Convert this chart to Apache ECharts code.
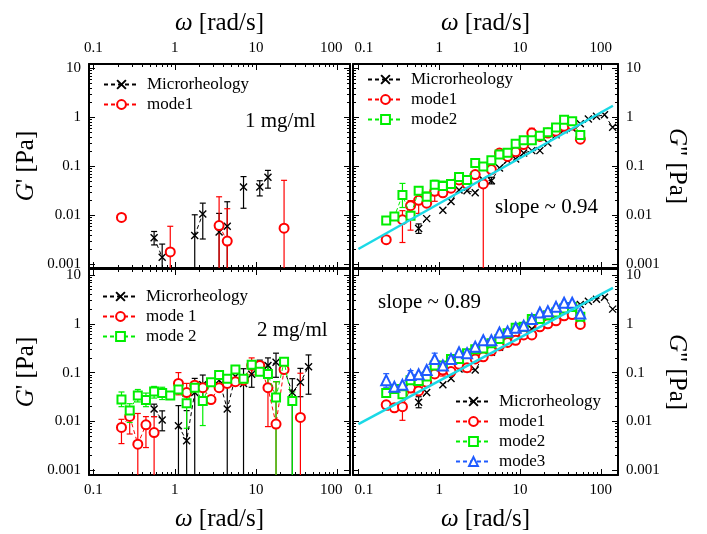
<!DOCTYPE html>
<html>
<head>
<meta charset="utf-8">
<script src="https://cdn.jsdelivr.net/npm/echarts@6/dist/echarts.min.js"></script>
<style>
html, body { margin: 0; padding: 0; background: #fff; }
#chart { width: 707px; height: 534px; }
</style>
</head>
<body>
<div id="chart"></div>
<script>
var FONT = '"Liberation Serif", "DejaVu Serif", serif';
var BLACK = '#000000', RED = '#ff0000', GREEN = '#00ee00', BLUE = '#1f5bff', CYAN = '#1ad9e6';

// frequency grid [rad/s] shared by all data sets
var omega = [0.221, 0.279, 0.351, 0.442, 0.557, 0.70, 0.88, 1.11, 1.40, 1.76, 2.21, 2.79, 3.51, 4.42,
  5.57, 7.01, 8.83, 11.1, 14.0, 17.6, 22.1, 27.9, 35.1, 44.2, 55.7, 70.1, 88.3, 111, 140];

// G' , 1 mg/ml (null = not plotted)
var tlMicro = [null, null, null, null, 0.0035, 0.0014, null, null, null, 0.0039, 0.0107, null, 0.0046, 0.0060,
  null, 0.038, null, 0.038, 0.060];
var tlMode1 = [0.0091, null, null, null, null, null, 0.0018, null, null, null, null, null, 0.0062, 0.0030,
  null, null, null, null, null, null, 0.0055];

// G'' , 1 mg/ml
var trMicro = [null, null, null, null, 0.0054, 0.0086, null, 0.0127, 0.0193, 0.033, 0.032, 0.029, 0.053, 0.051,
  0.093, 0.133, 0.141, 0.187, 0.21, 0.21, 0.30, 0.44, 0.56, 0.60, 0.74, 0.93, 1.05, 1.13, 0.63];
var trMode1 = [0.0032, null, 0.0082, 0.0158, 0.0203, 0.0178, 0.031, 0.029, 0.036, 0.053, 0.044, 0.068, 0.044, 0.086,
  0.187, 0.16, 0.20, 0.28, 0.48, 0.41, 0.48, 0.52, 0.66, 0.70, 0.36];
var trMode2 = [0.0079, 0.0095, 0.026, 0.0098, 0.032, 0.024, 0.042, 0.040, 0.044, 0.061, 0.053, 0.117, 0.100, 0.133,
  0.174, 0.19, 0.29, 0.34, 0.34, 0.42, 0.50, 0.62, 0.90, 0.83, 0.44];

// G' , 2 mg/ml
var blMicro = [null, null, null, null, 0.018, 0.0107, null, 0.0081, 0.0040, 0.039, 0.056, null, 0.070, 0.018,
  0.083, 0.060, 0.092, 0.143, 0.14, 0.162, 0.118, 0.039, 0.063, 0.132];
var blMode1 = [0.0075, 0.0126, 0.0034, 0.0085, 0.0059, null, null, 0.060, 0.039, 0.055, 0.049, 0.028, 0.049, 0.060,
  0.065, 0.070, 0.14, 0.14, 0.049, 0.0088, 0.115, null, 0.012];
var blMode2 = [0.028, 0.0166, 0.034, 0.0275, 0.041, 0.038, 0.034, 0.045, 0.0235, 0.049, 0.026, 0.063, 0.089, 0.075,
  0.116, 0.075, 0.145, 0.104, 0.093, 0.031, 0.167, 0.026];

// G'' , 2 mg/ml
var brMicro = [null, null, null, null, 0.0246, 0.039, null, 0.056, 0.076, 0.118, 0.12, 0.113, 0.21, 0.26,
  0.33, 0.42, 0.50, 0.64, 0.78, 0.94, 1.1, 1.5, 2.07, 2.2, 2.5, 2.9, 3.2, 3.5, 2.0];
var brMode1 = [0.0218, 0.019, 0.020, 0.048, 0.042, 0.063, 0.094, 0.113, 0.105, 0.148, 0.126, 0.19, 0.21, 0.28,
  0.355, 0.415, 0.46, 0.59, 0.59, 0.87, 1.0, 1.15, 1.46, 1.55, 0.97];
var brMode2 = [0.038, 0.046, 0.036, 0.070, 0.067, 0.083, 0.14, 0.14, 0.19, 0.19, 0.25, 0.30, 0.31, 0.40,
  0.49, 0.64, 0.83, 0.87, 1.25, 1.25, 1.5, 1.7, 2.07, 2.2, 1.4];
var brMode3 = [0.070, 0.051, 0.056, 0.089, 0.092, 0.113, 0.19, 0.14, 0.19, 0.26, 0.25, 0.34, 0.46, 0.46,
  0.66, 0.70, 0.83, 0.91, 1.25, 1.7, 1.82, 2.23, 2.7, 2.7, 1.63];

// error bars [omega, low, high]; low 0.0001 = bar runs off the bottom
var tlMicroErr = [[0.557, 0.0025, 0.0047], [0.70, 0.0001, 0.0026], [1.76, 0.0001, 0.0103], [2.21, 0.0033, 0.0178],
  [3.51, 0.0001, 0.011], [4.42, 0.0001, 0.019], [7.01, 0.014, 0.062], [11.1, 0.025, 0.051], [14.0, 0.036, 0.083]];
var tlMode1Err = [[0.88, 0.0001, 0.006], [3.51, 0.0001, 0.024], [4.42, 0.0001, 0.0137], [22.1, 0.0001, 0.052]];
var trMicroErr = [[0.557, 0.0043, 0.0067], [4.42, 0.044, 0.060]];
var trMode1Err = [[0.351, 0.0028, 0.0125], [0.442, 0.005, 0.02], [0.557, 0.011, 0.028], [0.88, 0.0194, 0.036],
  [3.51, 0.0001, 0.056], [14.0, 0.40, 0.60]];
var trMode2Err = [[0.351, 0.0145, 0.045], [0.70, 0.019, 0.03], [0.88, 0.034, 0.052], [1.11, 0.032, 0.05]];
var blMicroErr = [[0.557, 0.0125, 0.0225], [0.70, 0.0064, 0.0164], [1.11, 0.0001, 0.021], [1.40, 0.0001, 0.0166],
  [1.76, 0.0001, 0.076], [2.21, 0.030, 0.089], [4.42, 0.0001, 0.075], [7.01, 0.0001, 0.12], [8.83, 0.05, 0.14],
  [11.1, 0.11, 0.18], [14.0, 0.09, 0.20], [17.6, 0.08, 0.25], [27.9, 0.0001, 0.075], [35.1, 0.032, 0.122],
  [44.2, 0.036, 0.23]];
var blMode1Err = [[0.221, 0.0035, 0.011], [0.279, 0.0055, 0.017], [0.351, 0.0001, 0.0145], [0.442, 0.0029, 0.0125],
  [0.557, 0.0001, 0.0125], [1.11, 0.035, 0.10], [1.40, 0.022, 0.06], [8.83, 0.09, 0.20], [14.0, 0.0078, 0.097],
  [17.6, 0.0001, 0.065], [35.1, 0.0001, 0.097]];
var blMode2Err = [[0.221, 0.020, 0.040], [0.279, 0.0095, 0.023], [0.351, 0.025, 0.045], [0.442, 0.020, 0.038],
  [0.557, 0.030, 0.052], [0.70, 0.028, 0.050], [1.40, 0.0072, 0.046], [2.21, 0.0082, 0.060], [14.0, 0.045, 0.13],
  [17.6, 0.0001, 0.065], [22.1, 0.13, 0.20], [27.9, 0.0001, 0.040]];
var brMicroErr = [[0.557, 0.019, 0.032]];
var brMode1Err = [[0.221, 0.017, 0.026], [0.351, 0.0105, 0.024], [1.11, 0.085, 0.13]];
var brMode2Err = [[0.442, 0.055, 0.085]];
var brMode3Err = [[0.221, 0.05, 0.095], [0.442, 0.07, 0.11], [0.88, 0.15, 0.25]];

// power-law guides
var trFit = [[0.1, 0.00206], [141, 1.73]];
var brFit = [[0.1, 0.0088], [141, 5.45]];

var xMajor = [0.1, 1, 10, 100];
var xMinor = [0.2, 0.3, 0.4, 0.5, 0.6, 0.7, 0.8, 0.9, 2, 3, 4, 5, 6, 7, 8, 9, 20, 30, 40, 50, 60, 70, 80, 90];
var yMajor = [0.001, 0.01, 0.1, 1, 10];
var yMinor = [0.002, 0.003, 0.004, 0.005, 0.006, 0.007, 0.008, 0.009, 0.02, 0.03, 0.04, 0.05, 0.06, 0.07, 0.08, 0.09,
  0.2, 0.3, 0.4, 0.5, 0.6, 0.7, 0.8, 0.9, 2, 3, 4, 5, 6, 7, 8, 9];

var xLeft = [0.0881, 143], xRight = [0.0858, 163];
var yTop = [0.000845, 12.3], yBot = [0.000794, 13.3];

var grids = [
  { left: 89, top: 64, width: 261, height: 204 },
  { left: 353, top: 64, width: 265, height: 204 },
  { left: 89, top: 269, width: 261, height: 206 },
  { left: 353, top: 269, width: 265, height: 206 }
];

var titleStyle = {
  fontFamily: FONT, fontSize: 25, color: BLACK,
  rich: { i: { fontFamily: FONT, fontSize: 25, fontStyle: 'italic', color: BLACK } }
};
var OMEGA_NAME = '{i|\u03c9} [rad/s]';

var labelRich = {
  l: { fontFamily: FONT, fontSize: 15, color: BLACK, padding: [0, 12, 0, 0] },
  r: { fontFamily: FONT, fontSize: 15, color: BLACK, padding: [0, 0, 0, 11] }
};

function fmt(v) { return String(+(+v).toPrecision(3)); }
// left panels: "100" nudged left; right panels: "0.1" nudged right
function fmtLeftPanel(v) { var s = fmt(v); return s === '100' ? '{l|' + s + '}' : s; }
function fmtRightPanel(v) { var s = fmt(v); return s === '0.1' ? '{r|' + s + '}' : s; }

function axis(g, pos, range, majors, minors, labels, name, gap, rot, formatter) {
  var list = [];
  [false, true].forEach(function (minor) {
    var a = {
      type: 'log', logBase: 10, gridIndex: g, position: pos, min: range[0], max: range[1],
      axisLine: { show: !minor, onZero: false, lineStyle: { color: BLACK, width: 2 } },
      axisTick: { show: true, inside: true, length: minor ? 3 : 6, customValues: minor ? minors : majors,
        lineStyle: { color: BLACK, width: 1 } },
      axisLabel: { show: labels && !minor, customValues: majors, margin: 8,
        fontFamily: FONT, fontSize: 15, color: BLACK, rich: labelRich,
        formatter: formatter || fmt },
      splitLine: { show: false }, minorTick: { show: false }, silent: true
    };
    if (name && !minor) {
      a.name = name;
      a.nameLocation = 'middle';
      a.nameGap = gap;
      a.nameTextStyle = titleStyle;
      if (rot != null) a.nameRotate = rot;
    }
    list.push(a);
  });
  return list;
}

var xAxes = [], yAxes = [];
// each grid: x = [bottom, bottom minor, top, top minor], y = [left, left minor, right, right minor]
xAxes = xAxes.concat(axis(0, 'bottom', xLeft, xMajor, xMinor, false),
  axis(0, 'top', xLeft, xMajor, xMinor, true, OMEGA_NAME, 28, null, fmtLeftPanel));
xAxes = xAxes.concat(axis(1, 'bottom', xRight, xMajor, xMinor, false),
  axis(1, 'top', xRight, xMajor, xMinor, true, OMEGA_NAME, 28, null, fmtRightPanel));
xAxes = xAxes.concat(axis(2, 'bottom', xLeft, xMajor, xMinor, true, OMEGA_NAME, 32, null, fmtLeftPanel),
  axis(2, 'top', xLeft, xMajor, xMinor, false));
xAxes = xAxes.concat(axis(3, 'bottom', xRight, xMajor, xMinor, true, OMEGA_NAME, 32, null, fmtRightPanel),
  axis(3, 'top', xRight, xMajor, xMinor, false));
yAxes = yAxes.concat(axis(0, 'left', yTop, yMajor, yMinor, true, "{i|G}' [Pa]", 50, 90), axis(0, 'right', yTop, yMajor, yMinor, false));
yAxes = yAxes.concat(axis(1, 'left', yTop, yMajor, yMinor, false), axis(1, 'right', yTop, yMajor, yMinor, true, '{i|G}" [Pa]', 46, -90));
yAxes = yAxes.concat(axis(2, 'left', yBot, yMajor, yMinor, true, "{i|G}' [Pa]", 50, 90), axis(2, 'right', yBot, yMajor, yMinor, false));
yAxes = yAxes.concat(axis(3, 'left', yBot, yMajor, yMinor, false), axis(3, 'right', yBot, yMajor, yMinor, true, '{i|G}" [Pa]', 46, -90));

var SYM = {
  micro: { symbol: 'path://M0,0L10,10M10,0L0,10', size: 7 },
  mode1: { symbol: 'emptyCircle', size: 9 },
  mode2: { symbol: 'emptyRect', size: 8 },
  mode3: { symbol: 'emptyTriangle', size: 10 }
};

function pairs(ys) {
  return ys.map(function (y, i) { return [omega[i], y]; });
}

function line(name, g, ys, color, sym, z) {
  return {
    name: name, type: 'line', xAxisIndex: g * 4, yAxisIndex: g * 4, data: pairs(ys),
    symbol: sym.symbol, symbolSize: sym.size, showAllSymbol: true, connectNulls: false, clip: true,
    lineStyle: { color: color, width: 1, type: [4, 3] },
    itemStyle: { color: color, borderColor: color, borderWidth: 1.4 },
    emphasis: { disabled: true }, animation: false, z: z
  };
}

function errors(g, rows, color, z) {
  return {
    name: 'err', type: 'custom', xAxisIndex: g * 4, yAxisIndex: g * 4, data: rows, clip: true, z: z,
    silent: true, animation: false,
    encode: { x: 0, y: [1, 2] },
    renderItem: function (params, api) {
      var lo = api.coord([api.value(0), api.value(1)]);
      var hi = api.coord([api.value(0), api.value(2)]);
      var st = { stroke: color, lineWidth: 1.2 };
      return {
        type: 'group', children: [
          { type: 'line', shape: { x1: lo[0], y1: lo[1], x2: hi[0], y2: hi[1] }, style: st },
          { type: 'line', shape: { x1: hi[0] - 3, y1: hi[1], x2: hi[0] + 3, y2: hi[1] }, style: st },
          { type: 'line', shape: { x1: lo[0] - 3, y1: lo[1], x2: lo[0] + 3, y2: lo[1] }, style: st }
        ]
      };
    }
  };
}

function fit(g, pts) {
  return {
    name: 'fit', type: 'line', xAxisIndex: g * 4, yAxisIndex: g * 4, data: pts, symbol: 'none',
    lineStyle: { color: CYAN, width: 2.5 }, clip: true, z: 20, animation: false, silent: true
  };
}

var series = [
  errors(0, tlMicroErr, BLACK, 2), errors(0, tlMode1Err, RED, 2),
  line('Microrheology', 0, tlMicro, BLACK, SYM.micro, 3), line('mode1', 0, tlMode1, RED, SYM.mode1, 4),

  errors(1, trMicroErr, BLACK, 2), errors(1, trMode1Err, RED, 2), errors(1, trMode2Err, GREEN, 2),
  line('Microrheology', 1, trMicro, BLACK, SYM.micro, 3), line('mode1', 1, trMode1, RED, SYM.mode1, 4),
  line('mode2', 1, trMode2, GREEN, SYM.mode2, 5), fit(1, trFit),

  errors(2, blMicroErr, BLACK, 2), errors(2, blMode1Err, RED, 2), errors(2, blMode2Err, GREEN, 2),
  line('Microrheology', 2, blMicro, BLACK, SYM.micro, 3), line('mode 1', 2, blMode1, RED, SYM.mode1, 4),
  line('mode 2', 2, blMode2, GREEN, SYM.mode2, 5),

  errors(3, brMicroErr, BLACK, 2), errors(3, brMode1Err, RED, 2), errors(3, brMode2Err, GREEN, 2),
  errors(3, brMode3Err, BLUE, 2),
  line('Microrheology', 3, brMicro, BLACK, SYM.micro, 3), line('mode1', 3, brMode1, RED, SYM.mode1, 4),
  line('mode2', 3, brMode2, GREEN, SYM.mode2, 5), line('mode3', 3, brMode3, BLUE, SYM.mode3, 6),
  fit(3, brFit)
];

function legend(names, left, top) {
  return {
    data: names, left: left, top: top, orient: 'vertical', padding: 0, itemGap: 3,
    itemWidth: 35, itemHeight: 11, selectedMode: false,
    textStyle: { fontFamily: FONT, fontSize: 17, color: BLACK, padding: [0, 0, 0, 3] }
  };
}

function note(text, x, y) {
  return { type: 'text', x: x, y: y, silent: true,
    style: { text: text, fontFamily: FONT, fontSize: 21, fill: BLACK, verticalAlign: 'middle' } };
}

var chart = echarts.init(document.getElementById('chart'), null, { renderer: 'canvas' });
chart.setOption({
  backgroundColor: '#ffffff',
  animation: false,
  grid: grids,
  xAxis: xAxes,
  yAxis: yAxes,
  legend: [
    legend(['Microrheology', 'mode1'], 103, 76),
    legend(['Microrheology', 'mode1', 'mode2'], 367, 71),
    legend(['Microrheology', 'mode 1', 'mode 2'], 102, 288),
    legend(['Microrheology', 'mode1', 'mode2', 'mode3'], 455, 393)
  ],
  graphic: [
    note('1 mg/ml', 245, 121),
    note('2 mg/ml', 257, 330),
    note('slope ~ 0.94', 495, 207),
    note('slope ~ 0.89', 378, 302)
  ],
  series: series
});
</script>
</body>
</html>
